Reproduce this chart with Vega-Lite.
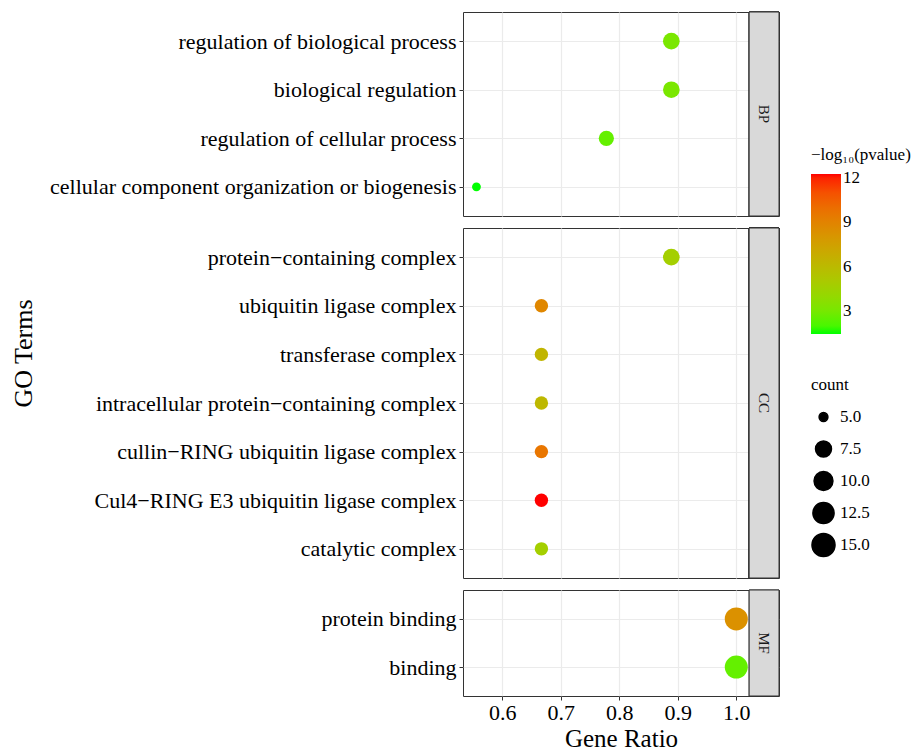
{
  "$schema": "https://vega.github.io/schema/vega-lite/v6.json",
  "padding": {"left": 9, "top": 11, "right": 0, "bottom": 0},
  "data": {"values": [
    {"Category": "BP", "Term": "regulation of biological process", "GeneRatio": 0.889, "Count": 8, "logP": 3.1},
    {"Category": "BP", "Term": "biological regulation", "GeneRatio": 0.889, "Count": 8, "logP": 3.1},
    {"Category": "BP", "Term": "regulation of cellular process", "GeneRatio": 0.778, "Count": 7, "logP": 2.5},
    {"Category": "BP", "Term": "cellular component organization or biogenesis", "GeneRatio": 0.556, "Count": 5, "logP": 1.45},
    {"Category": "CC", "Term": "protein−containing complex", "GeneRatio": 0.889, "Count": 8, "logP": 4.7},
    {"Category": "CC", "Term": "ubiquitin ligase complex", "GeneRatio": 0.667, "Count": 6, "logP": 8.8},
    {"Category": "CC", "Term": "transferase complex", "GeneRatio": 0.667, "Count": 6, "logP": 6.3},
    {"Category": "CC", "Term": "intracellular protein−containing complex", "GeneRatio": 0.667, "Count": 6, "logP": 6.1},
    {"Category": "CC", "Term": "cullin−RING ubiquitin ligase complex", "GeneRatio": 0.667, "Count": 6, "logP": 9.6},
    {"Category": "CC", "Term": "Cul4−RING E3 ubiquitin ligase complex", "GeneRatio": 0.667, "Count": 6, "logP": 12.27},
    {"Category": "CC", "Term": "catalytic complex", "GeneRatio": 0.667, "Count": 6, "logP": 4.7},
    {"Category": "MF", "Term": "protein binding", "GeneRatio": 1.0, "Count": 15, "logP": 8.3},
    {"Category": "MF", "Term": "binding", "GeneRatio": 1.0, "Count": 15, "logP": 2.5}
  ]},
  "spacing": 10,
  "resolve": {"scale": {"color": "shared", "size": "shared"}},
  "vconcat": [
    {
      "width": 316, "height": 204,
      "transform": [{"filter": "datum.Category == 'BP'"}],
      "layer": [
        {"mark": {"type": "point", "filled": true, "opacity": 1, "shape": "circle"},
         "encoding": {
          "x": {"field": "GeneRatio", "type": "quantitative", "title": null,
            "scale": {"domain": [0.533, 1.073], "nice": false, "zero": false},
            "axis": {"values": [0.6, 0.7, 0.8, 0.9, 1.0], "labels": false, "ticks": false, "domain": false, "gridWidth": 1.2, "gridColor": "#EBEBEB"}},
          "y": {"field": "Term", "type": "nominal", "title": null,
            "sort": ["regulation of biological process", "biological regulation", "regulation of cellular process", "cellular component organization or biogenesis"],
            "scale": {"type": "point", "padding": 0.6},
            "axis": {"domain": false, "grid": true, "gridColor": "#EBEBEB", "gridWidth": 1.2, "tickColor": "#333333", "tickSize": 4, "labelPadding": 3, "labelFontSize": 22, "labelLimit": 0}},
          "color": {"field": "logP", "type": "quantitative", "title": "−log₁₀(pvalue)",
            "scale": {"domain": [1.45, 12.27], "range": ["#00FF00", "#FF0000"], "interpolate": "lab"},
            "legend": {"values": [3, 6, 9, 12], "gradientLength": 160, "gradientThickness": 30, "orient": "none", "legendX": 348, "legendY": 135}},
          "size": {"field": "Count", "type": "quantitative", "title": "count",
            "scale": {"domain": [5, 6, 7, 8, 10, 12.5, 15], "range": [78, 179, 232, 278, 356, 449, 531], "zero": false},
            "legend": {"values": [5, 7.5, 10, 12.5, 15], "format": ".1f", "symbolFillColor": "black", "symbolStrokeColor": "black", "symbolType": "circle", "clipHeight": 26, "orient": "none", "legendX": 348, "legendY": 365}}
         }},
        {"mark": {"type": "rect", "fill": "#D9D9D9", "stroke": "#333333", "strokeWidth": 1},
         "encoding": {"x": {"datum": 1.022, "type": "quantitative"}, "x2": {"datum": 1.073}}},
        {"transform": [{"aggregate": [{"op": "count", "as": "n"}], "groupby": ["Category"]}],
         "mark": {"type": "text", "angle": 90, "fontSize": 15, "color": "#1A1A1A", "align": "center", "baseline": "middle"},
         "encoding": {"x": {"datum": 1.0475, "type": "quantitative"}, "text": {"field": "Category", "type": "nominal"}}}
      ]
    },
    {
      "width": 316, "height": 350,
      "transform": [{"filter": "datum.Category == 'CC'"}],
      "layer": [
        {"mark": {"type": "point", "filled": true, "opacity": 1, "shape": "circle"},
         "encoding": {
          "x": {"field": "GeneRatio", "type": "quantitative", "title": null,
            "scale": {"domain": [0.533, 1.073], "nice": false, "zero": false},
            "axis": {"values": [0.6, 0.7, 0.8, 0.9, 1.0], "labels": false, "ticks": false, "domain": false, "gridWidth": 1.2, "gridColor": "#EBEBEB"}},
          "y": {"field": "Term", "type": "nominal", "title": "GO Terms",
            "sort": ["protein−containing complex", "ubiquitin ligase complex", "transferase complex", "intracellular protein−containing complex", "cullin−RING ubiquitin ligase complex", "Cul4−RING E3 ubiquitin ligase complex", "catalytic complex"],
            "scale": {"type": "point", "padding": 0.6},
            "axis": {"domain": false, "grid": true, "gridColor": "#EBEBEB", "gridWidth": 1.2, "tickColor": "#333333", "tickSize": 4, "labelPadding": 3, "labelFontSize": 22, "labelLimit": 0, "titleFontSize": 26, "titleX": -440, "titleY": 125, "titleBaseline": "middle", "titleAlign": "center"}},
          "color": {"field": "logP", "type": "quantitative", "title": "−log₁₀(pvalue)",
            "scale": {"domain": [1.45, 12.27], "range": ["#00FF00", "#FF0000"], "interpolate": "lab"}},
          "size": {"field": "Count", "type": "quantitative", "title": "count",
            "scale": {"domain": [5, 6, 7, 8, 10, 12.5, 15], "range": [78, 179, 232, 278, 356, 449, 531], "zero": false}}
         }},
        {"mark": {"type": "rect", "fill": "#D9D9D9", "stroke": "#333333", "strokeWidth": 1},
         "encoding": {"x": {"datum": 1.022, "type": "quantitative"}, "x2": {"datum": 1.073}}},
        {"transform": [{"aggregate": [{"op": "count", "as": "n"}], "groupby": ["Category"]}],
         "mark": {"type": "text", "angle": 90, "fontSize": 15, "color": "#1A1A1A", "align": "center", "baseline": "middle"},
         "encoding": {"x": {"datum": 1.0475, "type": "quantitative"}, "text": {"field": "Category", "type": "nominal"}}}
      ]
    },
    {
      "width": 316, "height": 106,
      "transform": [{"filter": "datum.Category == 'MF'"}],
      "layer": [
        {"mark": {"type": "point", "filled": true, "opacity": 1, "shape": "circle"},
         "encoding": {
          "x": {"field": "GeneRatio", "type": "quantitative", "title": "Gene Ratio",
            "scale": {"domain": [0.533, 1.073], "nice": false, "zero": false},
            "axis": {
              "values": [0.6, 0.7, 0.8, 0.9, 1.0],
              "format": ".1f",
              "gridWidth": 1.2,
              "gridColor": "#EBEBEB", "domain": false, "tickColor": "#333333", "tickSize": 4,
              "labelPadding": 2, "labelFontSize": 22, "titleFontSize": 25, "titlePadding": 3}},
          "y": {"field": "Term", "type": "nominal", "title": null,
            "sort": ["protein binding", "binding"],
            "scale": {"type": "point", "padding": 0.6},
            "axis": {"domain": false, "grid": true, "gridColor": "#EBEBEB", "gridWidth": 1.2, "tickColor": "#333333", "tickSize": 4, "labelPadding": 3, "labelFontSize": 22, "labelLimit": 0}},
          "color": {"field": "logP", "type": "quantitative", "title": "−log₁₀(pvalue)",
            "scale": {"domain": [1.45, 12.27], "range": ["#00FF00", "#FF0000"], "interpolate": "lab"}},
          "size": {"field": "Count", "type": "quantitative", "title": "count",
            "scale": {"domain": [5, 6, 7, 8, 10, 12.5, 15], "range": [78, 179, 232, 278, 356, 449, 531], "zero": false}}
         }},
        {"mark": {"type": "rect", "fill": "#D9D9D9", "stroke": "#333333", "strokeWidth": 1},
         "encoding": {"x": {"datum": 1.022, "type": "quantitative"}, "x2": {"datum": 1.073}}},
        {"transform": [{"aggregate": [{"op": "count", "as": "n"}], "groupby": ["Category"]}],
         "mark": {"type": "text", "angle": 90, "fontSize": 15, "color": "#1A1A1A", "align": "center", "baseline": "middle"},
         "encoding": {"x": {"datum": 1.0475, "type": "quantitative"}, "text": {"field": "Category", "type": "nominal"}}}
      ]
    }
  ],
  "config": {
    "font": "Liberation Serif",
    "view": {"stroke": "#333333", "strokeWidth": 1},
    "axis": {"labelColor": "#000000", "titleColor": "#000000", "titleFontWeight": "normal", "labelFont": "Liberation Serif", "titleFont": "Liberation Serif"},
    "legend": {
      "titleFont": "Liberation Serif", "labelFont": "Liberation Serif",
      "titleFontSize": 17, "labelFontSize": 17, "titleFontWeight": "normal",
      "titleColor": "#000000", "labelColor": "#000000",
      "rowPadding": 6, "titlePadding": 10
    }
  }
}
